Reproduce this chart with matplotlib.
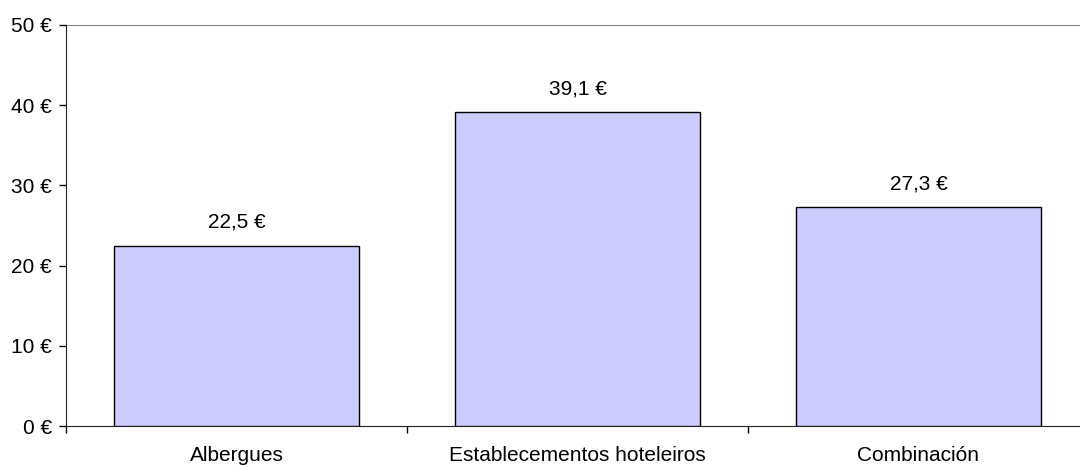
import matplotlib.pyplot as plt
import numpy as np

categories = ['Albergues', 'Establecementos hoteleiros', 'Combinación']
values = [22.5, 39.1, 27.3]
value_labels = ['22,5 €', '39,1 €', '27,3 €']
yticks = [0, 10, 20, 30, 40, 50]

plt.rcParams['font.family'] = ['Liberation Sans', 'DejaVu Sans']
fs = 15

fig = plt.figure(figsize=(10.8, 4.66), dpi=100)
# category width ~341 px, axis runs past the right edge of the image
ax = fig.add_axes([66 / 1080, 1 - 426 / 466, (3 * 341) / 1080, (426 - 25) / 466])

x = np.arange(len(categories))
ax.bar(x, values, width=0.72, color='#ccccff', edgecolor='black', linewidth=1, zorder=3)

for xi, v, lab in zip(x, values, value_labels):
    ax.annotate(lab, (xi, v), xytext=(0, 10), textcoords='offset points',
                ha='center', va='bottom', fontsize=fs)

ax.set_xlim(-0.5, 2.5)
ax.set_ylim(0, 50)
ax.axhline(50, color='#808080', linewidth=1.5, zorder=1)

ax.set_yticks(yticks)
ax.set_yticklabels([f'{t} €' for t in yticks], fontsize=fs)
ax.tick_params(axis='y', direction='out', length=5, width=1, pad=5)

ax.set_xticks(x)
ax.set_xticklabels(categories, fontsize=fs)
ax.set_xticks([-0.5, 0.5, 1.5, 2.5], minor=True)
ax.tick_params(axis='x', which='major', length=0, pad=14.5)
ax.tick_params(axis='x', which='minor', direction='out', length=5, width=1)

for s in ['top', 'right']:
    ax.spines[s].set_visible(False)
ax.spines['left'].set_color('#222222')
ax.spines['bottom'].set_color('#222222')

fig.savefig('out.png', dpi=100)
